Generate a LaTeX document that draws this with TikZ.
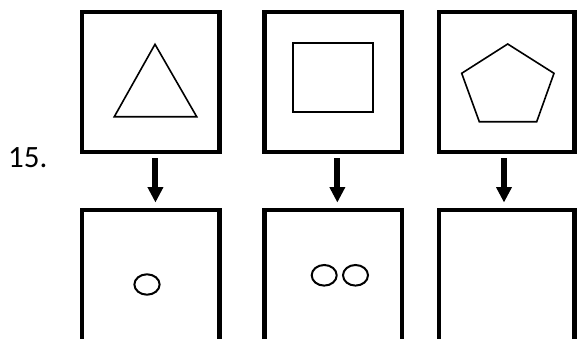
\documentclass[tikz,border=0pt]{standalone}
\usepackage{fontspec}
\setmainfont{Carlito}
\usetikzlibrary{arrows.meta}
\begin{document}
\begin{tikzpicture}[x=1pt,y=-1pt,
  box/.style={draw=black,line width=4.3pt,rectangle,inner sep=0pt,outer sep=0pt},
  shapeline/.style={draw=black,line width=1.6pt,line join=miter},
  oval/.style={draw=black,line width=2pt},
  downarrow/.style={line width=6pt,-{Triangle[width=16pt,length=15pt,line width=0pt]}}]
\useasboundingbox (0,0) rectangle (579,338);
\clip (0,0) rectangle (579,338);
% top boxes
\node[box,minimum width=137.3pt,minimum height=140pt] (t1) at (150.85,82.2) {};
\node[box,minimum width=137.3pt,minimum height=140pt] (t2) at (333.15,82.2) {};
\node[box,minimum width=135.6pt,minimum height=140pt] (t3) at (506.7,82.2) {};
% bottom boxes (continue beyond the lower edge)
\node[box,minimum width=137.3pt,minimum height=190pt] (b1) at (150.85,305.2) {};
\node[box,minimum width=137.3pt,minimum height=190pt] (b2) at (333.15,305.2) {};
\node[box,minimum width=135.6pt,minimum height=190pt] (b3) at (506.7,305.2) {};
% label
\node[anchor=base west,inner sep=0pt,font=\fontsize{31}{36}\selectfont] (lbl) at (8,167) {15.};
% shapes in top boxes
\draw[shapeline] (155,44.3) -- (114.3,116.7) -- (196.7,116.7) -- cycle;
\draw[shapeline,line width=2pt] (292.7,42.7) rectangle (373.3,112.3);
\draw[shapeline] (507.7,44) -- (554,73.3) -- (536.7,121.7) -- (479.3,121.7) -- (461.7,73.3) -- cycle;
% ovals in bottom boxes
\draw[oval] (147,284.5) ellipse [x radius=12.6pt,y radius=10.2pt];
\draw[oval] (324.2,275.3) ellipse [x radius=12.5pt,y radius=10.3pt];
\draw[oval] (355.5,275.3) ellipse [x radius=12.5pt,y radius=10.3pt];
% arrows
\draw[downarrow,shorten <=6.2pt,shorten >=8pt] ([xshift=4.6pt]t1.south) -- ([xshift=4.6pt]b1.north);
\draw[downarrow,shorten <=6.2pt,shorten >=8pt] ([xshift=4.2pt]t2.south) -- ([xshift=4.2pt]b2.north);
\draw[downarrow,shorten <=6.2pt,shorten >=8pt] ([xshift=-2.7pt]t3.south) -- ([xshift=-2.7pt]b3.north);
\end{tikzpicture}
\end{document}
